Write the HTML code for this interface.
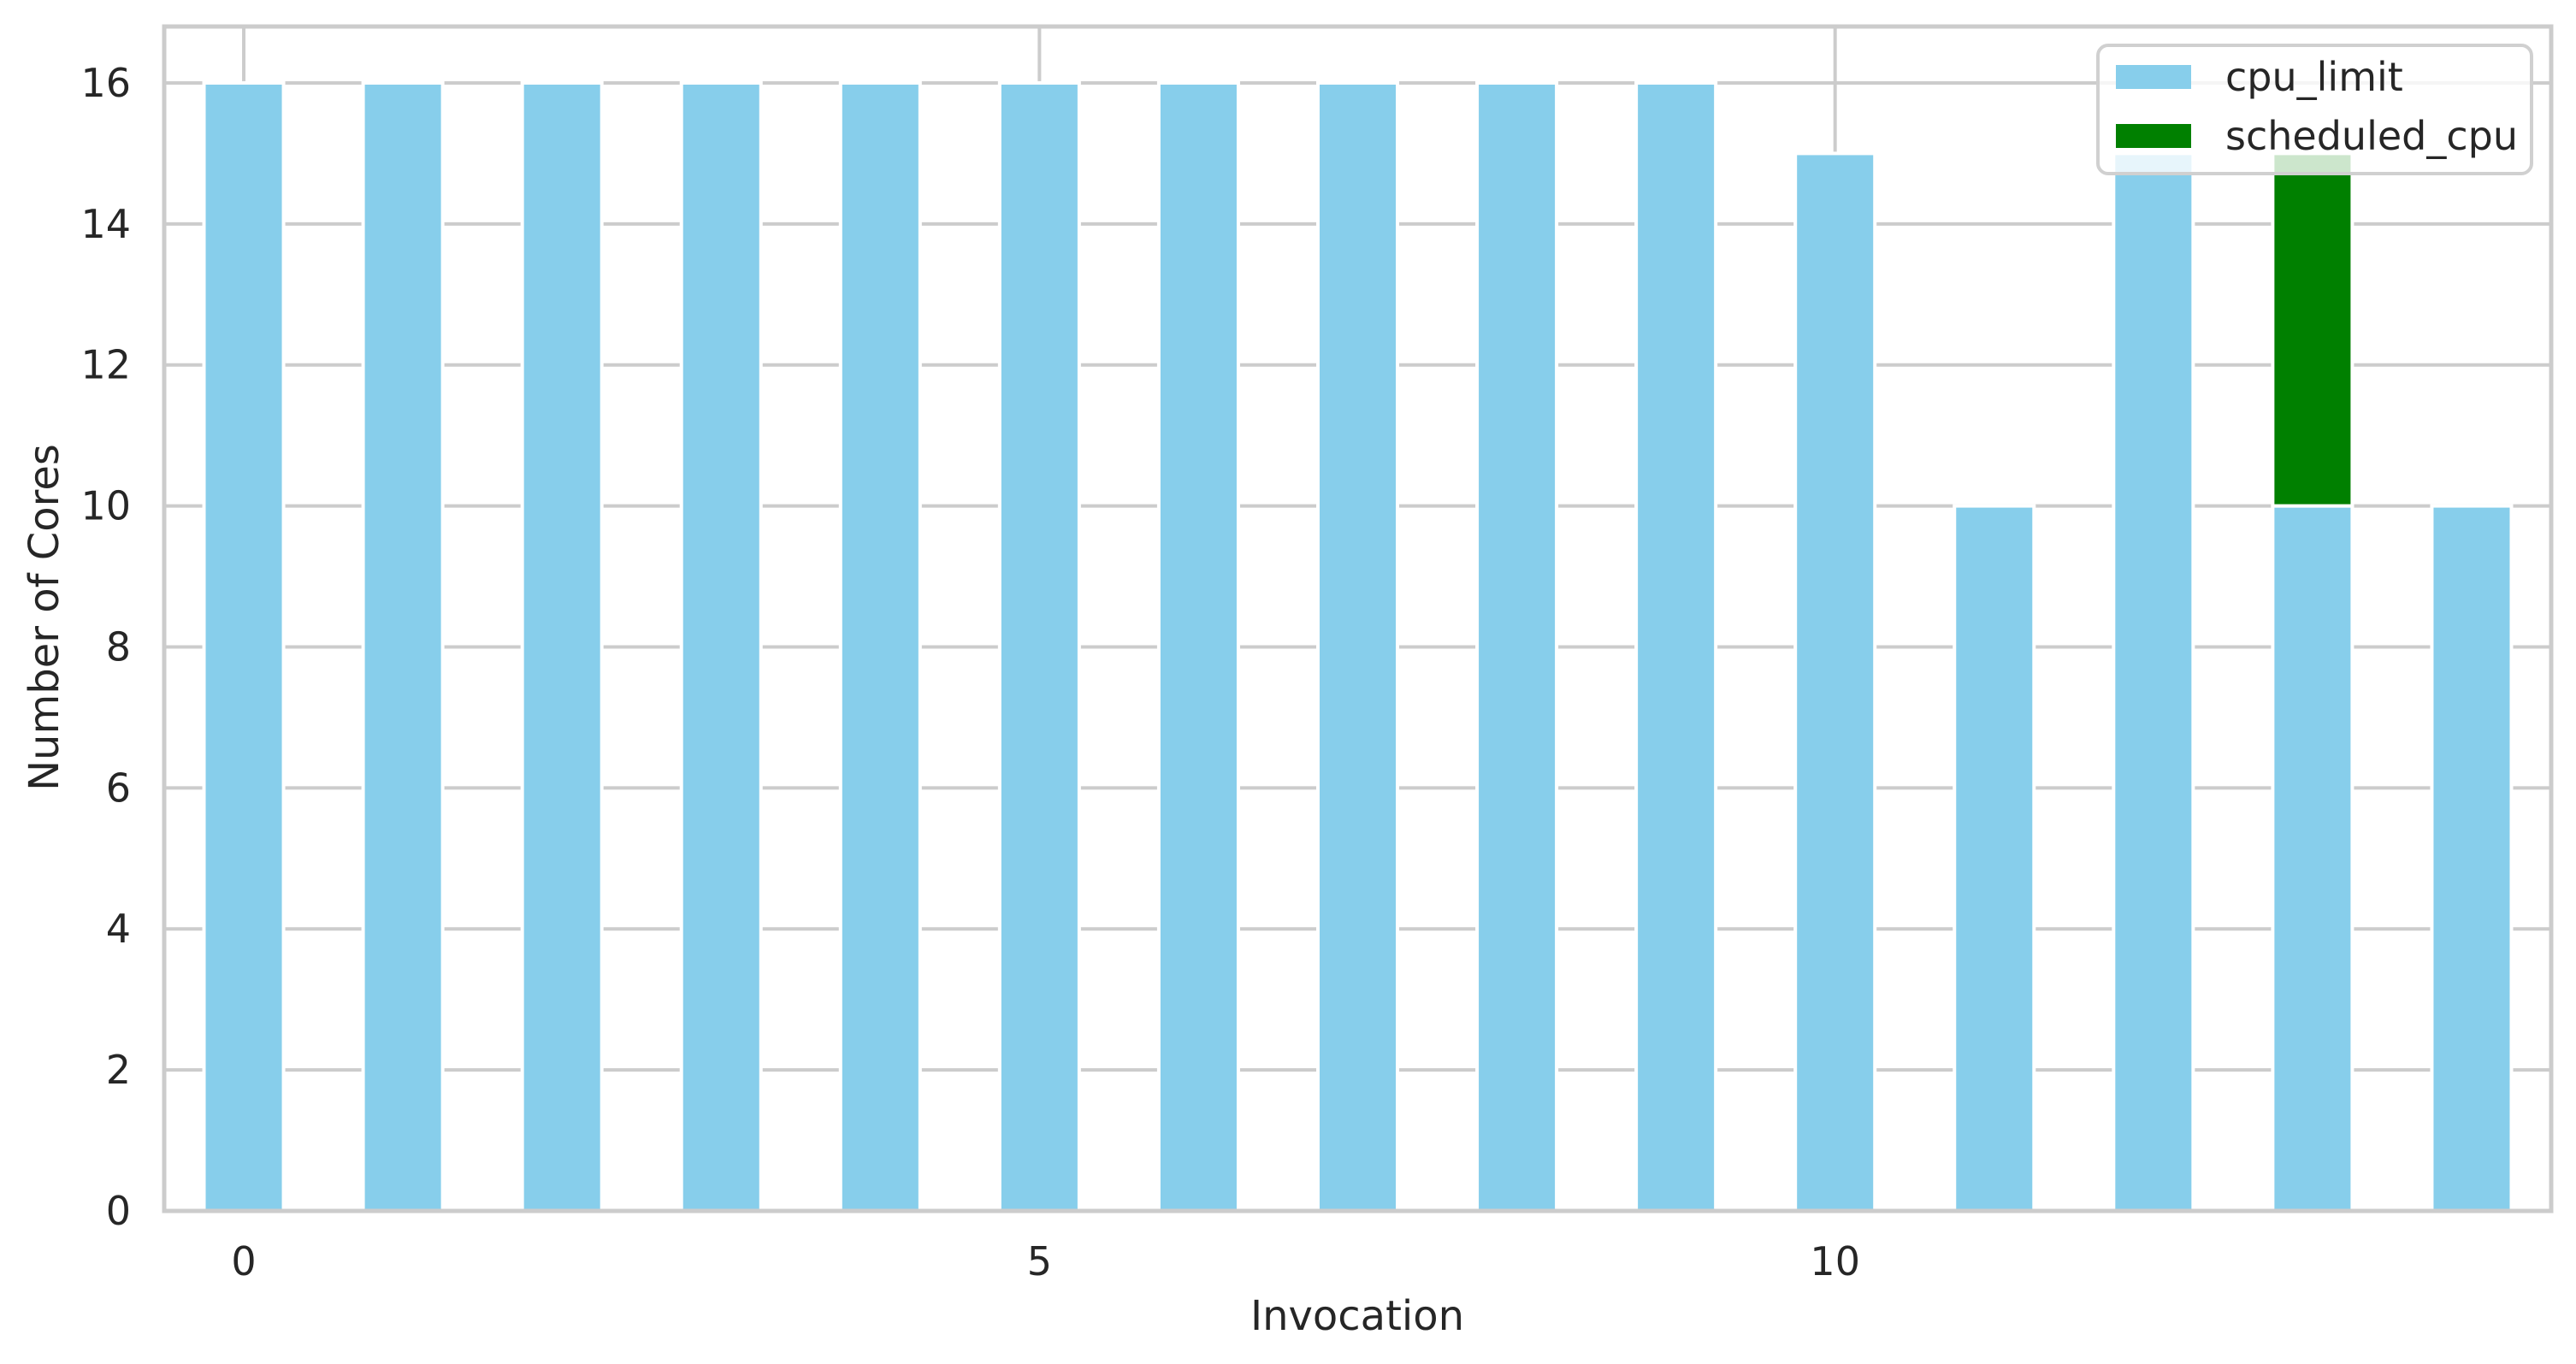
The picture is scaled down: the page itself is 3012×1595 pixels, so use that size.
<!DOCTYPE html>
<html><head><meta charset="utf-8"><style>
html,body{margin:0;padding:0;background:#fff;}
svg{display:block;font-family:"DejaVu Sans","Liberation Sans",sans-serif;}
</style></head><body>
<svg id="chart" width="3012" height="1595" viewBox="0 0 3012 1595" xmlns="http://www.w3.org/2000/svg">
<g id="grid"></g>
<g id="bars"></g>
<g id="spines"></g>
<g id="ticks"></g>
<text x="52" y="722" transform="rotate(-90 52 722)" text-anchor="middle" dominant-baseline="central" font-size="48" fill="#262626">Number of Cores</text>
<text x="1587" y="1555" text-anchor="middle" font-size="48" fill="#262626">Invocation</text>
<g>
<rect x="2453" y="53" width="507" height="150" rx="12" fill="#fff" fill-opacity="0.8" stroke="#d0d0d0" stroke-width="4"/>
<rect x="2474" y="76" width="88" height="28" fill="#87CEEB"/>
<text x="2602" y="106" font-size="46" fill="#262626">cpu_limit</text>
<rect x="2474" y="145" width="88" height="28" fill="#008000"/>
<text x="2602" y="175" font-size="46" fill="#262626">scheduled_cpu</text>
</g>
</svg>
<script>
const categories = [0,1,2,3,4,5,6,7,8,9,10,11,12,13,14];
const cpuLimit = [16,16,16,16,16,16,16,16,16,16,15,10,15,10,10];
const scheduledCpu = [0,0,0,0,0,0,0,0,0,0,0,0,0,5,0];
const yTicks = [0,2,4,6,8,10,12,14,16];
const xTicks = [0,5,10];

const NS = "http://www.w3.org/2000/svg";
const L = 192, R = 2983, T = 31, B = 1416;
const xMin = -0.5, xMax = 14.5, yMin = 0, yMax = 16.8;
function xs(v){ return L + (v - xMin) / (xMax - xMin) * (R - L); }
function ys(v){ return B - (v - yMin) / (yMax - yMin) * (B - T); }
function mk(tag, attrs, parent){
  const e = document.createElementNS(NS, tag);
  for (const k in attrs) e.setAttribute(k, attrs[k]);
  parent.appendChild(e);
  return e;
}
const grid = document.getElementById('grid');
yTicks.forEach(t => {
  const l = mk('line', {x1:L, x2:R, y1:ys(t), y2:ys(t), stroke:'#cccccc', 'stroke-width':4}, grid);
  
  
});
xTicks.forEach(t => {
  const l = mk('line', {x1:xs(t), x2:xs(t), y1:T, y2:B, stroke:'#cccccc', 'stroke-width':4}, grid);
  
  
});
const bars = document.getElementById('bars');
const bw = 0.5;
categories.forEach((c, i) => {
  const x0 = xs(c - bw/2), x1 = xs(c + bw/2);
  const a = mk('rect', {x:x0, y:ys(cpuLimit[i]), width:x1-x0, height:ys(0)-ys(cpuLimit[i]), fill:'#87CEEB', stroke:'#fff', 'stroke-width':4}, bars);
  
  
  if (scheduledCpu[i] > 0) {
    const top = cpuLimit[i] + scheduledCpu[i];
    const b = mk('rect', {x:x0, y:ys(top), width:x1-x0, height:ys(cpuLimit[i])-ys(top), fill:'#008000', stroke:'#fff', 'stroke-width':4}, bars);
    
    
  }
});
const sp = document.getElementById('spines');
const fr = mk('rect', {x:L, y:T, width:R-L, height:B-T, fill:'none', stroke:'#cccccc', 'stroke-width':5}, sp);


const tk = document.getElementById('ticks');
yTicks.forEach(t => {
  const e = mk('text', {x:153, y:ys(t), 'text-anchor':'end', 'dominant-baseline':'central', 'font-size':46, fill:'#262626'}, tk);
  e.textContent = t;
  
  
});
xTicks.forEach(t => {
  const e = mk('text', {x:xs(t), y:1475, 'text-anchor':'middle', 'dominant-baseline':'central', 'font-size':46, fill:'#262626'}, tk);
  e.textContent = t;
  
  
});
</script>
</body></html>
